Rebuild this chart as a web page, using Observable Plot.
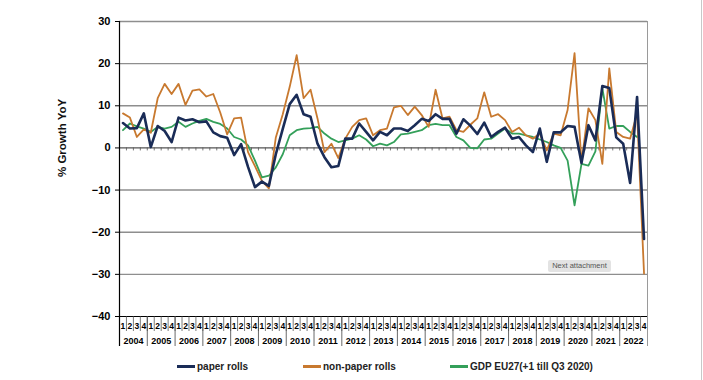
<!DOCTYPE html>
<html><head><meta charset="utf-8">
<script src="https://cdn.jsdelivr.net/npm/d3@7"></script>
<script src="https://cdn.jsdelivr.net/npm/@observablehq/plot@0.6"></script>
<style>
body{margin:0;background:#fff;font-family:"Liberation Sans",Arial,sans-serif;}
#wrap{position:relative;width:703px;height:380px;overflow:hidden;}
#chart{position:absolute;left:0;top:0;}
.item{position:absolute;top:360px;height:12px;display:flex;align-items:center;font-weight:bold;font-size:10px;color:#222;white-space:nowrap;}
.sw{display:inline-block;width:18px;height:3px;margin-right:2px;}
#next{position:absolute;left:548px;top:260px;width:63px;height:12px;background:#e3e3e3;border-radius:2px;font-size:7.5px;color:#555;line-height:12px;text-align:center;}
#edge{position:absolute;left:701px;top:0;width:1px;height:380px;background:#c8c8c8;}
</style></head><body>
<div id="wrap"><div id="chart"></div></div>
<script>
const years = [2004,2005,2006,2007,2008,2009,2010,2011,2012,2013,2014,2015,2016,2017,2018,2019,2020,2021,2022];
const quarterLabels = ["1","2","3","4"];
const yTicks = [30,20,10,0,-10,-20,-30,-40];
const seriesNames = ["paper rolls","non-paper rolls","GDP EU27(+1 till Q3 2020)"];
const seriesColors = ["#1a2c57","#c8792f","#34a05a"];

const paper = [5.9,4.6,4.7,8.2, 0.2,5.2,4.0,1.4, 7.2,6.5,6.8,6.1, 6.3,3.7,2.8,2.4,
  -1.7,0.9,-4.5,-9.3, -8.0,-9.0,-1.5,4.5, 10.4,12.6,8.0,7.4, 1.0,-2.2,-4.6,-4.3,
  2.2,2.2,5.8,3.8, 1.8,3.8,3.0,4.6, 4.6,4.0,5.4,6.9, 6.4,8.0,6.9,6.9,
  3.4,6.8,5.3,3.3, 6.0,2.6,3.8,4.8, 2.2,2.6,0.6,-1.0, 4.6,-3.3,3.7,3.7,
  5.2,5.0,-3.6,5.4, 1.8,14.7,14.2,2.5, 1.0,-8.3,12.1,-21.6];
const nonPaper = [8.2,7.2,2.6,4.4, 3.6,11.8,15.2,12.8, 15.2,10.2,13.6,13.9, 12.2,12.8,8.4,3.2,
  7.0,7.2,-1.0,-4.3, -7.8,-9.6,2.5,8.0, 14.5,22.0,11.8,13.8, 7.0,-1.0,1.0,-2.4,
  2.2,5.0,6.6,7.0, 3.0,4.2,4.6,9.6, 10.0,7.8,9.8,7.8, 5.0,13.8,7.0,7.4,
  4.2,3.8,5.5,7.0, 13.2,7.4,8.0,6.6, 3.8,4.8,3.0,2.2, 3.4,-0.6,3.4,3.0,
  9.0,22.5,-3.5,9.4, 6.6,-3.8,18.9,3.8, 2.6,2.2,8.2,-29.8];
const gdp = [4.2,5.8,5.1,4.6, 3.8,5.0,4.6,5.0, 6.2,5.0,5.8,6.4, 6.9,6.2,5.7,4.6,
  2.6,2.0,0.6,-3.0, -7.0,-6.6,-4.6,-1.5, 3.0,4.2,4.6,4.7, 5.0,3.4,2.2,1.4,
  1.8,2.2,3.0,2.0, 0.4,1.0,0.6,1.4, 3.2,3.4,3.8,4.2, 5.4,5.7,5.4,5.4,
  2.6,1.8,0.0,-0.1, 2.0,2.2,3.4,4.6, 3.4,3.4,3.0,2.6, 2.0,1.4,0.6,0.0,
  -3.0,-13.6,-3.8,-4.2, -0.8,14.2,4.6,5.2, 5.2,3.8,2.6];

const nQ = years.length * 4;
const qIdx = d3.range(nQ);
const qBounds = d3.range(nQ + 1).map(i => i - 0.5);
const yBounds = d3.range(years.length + 1).map(k => 4 * k - 0.5);
const yCenters = years.map((y, k) => 4 * k + 1.5);

const rows = [];
[paper, nonPaper, gdp].forEach((arr, s) => arr.forEach((v, i) => rows.push({q: i, v, s: seriesNames[s]})));

const grid = [30,20,10,-10,-20,-30];

const chart = Plot.plot({
  width: 703, height: 350,
  marginLeft: 119, marginRight: 56, marginTop: 21, marginBottom: 34,
  x: {domain: [-0.5, nQ - 0.5], axis: null, label: null},
  y: {domain: [-40, 30], axis: null, label: null},
  color: {domain: seriesNames, range: seriesColors},
  style: {fontFamily: "'Liberation Sans', Arial, sans-serif", color: "#000", background: "#fff"},
  marks: [
    Plot.ruleY(grid, {stroke: "#8e8e8e", strokeWidth: 1.4}),
    Plot.ruleY([0], {stroke: "#555", strokeWidth: 1.3}),
    Plot.ruleX(qBounds, {y1: 0, y2: 0, insetBottom: -3, stroke: "#555", strokeWidth: 0.8}),
    Plot.ruleY([-40], {stroke: "#000", strokeWidth: 1}),
    Plot.axisY({ticks: yTicks, tickSize: 4, tickPadding: 5, fontSize: 11, fontWeight: "bold", label: null}),
    Plot.axisX({ticks: qBounds, tickSize: 15, tickFormat: () => "", stroke: "#444", strokeWidth: 0.7, label: null}),
    Plot.axisX({ticks: qIdx, tickSize: 0, tickPadding: 6, fontSize: 8.5, fontWeight: "bold", tickFormat: d => quarterLabels[d % 4], label: null}),
    Plot.axisX({ticks: yBounds, tickSize: 30, tickFormat: () => "", stroke: "#444", strokeWidth: 0.8, label: null}),
    Plot.axisX({ticks: yCenters, tickSize: 0, tickPadding: 21, fontSize: 9, fontWeight: "bold", tickFormat: d => String(years[(d - 1.5) / 4]), label: null}),
    Plot.ruleX([-0.5], {y1: 30, y2: -40, insetBottom: -30, stroke: "#000", strokeWidth: 1.2}),
    Plot.ruleX([nQ - 0.5], {y1: 30, y2: -40, insetBottom: -30, stroke: "#9a9a9a", strokeWidth: 1}),
    Plot.line(rows.filter(d => d.s === seriesNames[2]), {x: "q", y: "v", stroke: "s", strokeWidth: 1.8}),
    Plot.line(rows.filter(d => d.s === seriesNames[1]), {x: "q", y: "v", stroke: "s", strokeWidth: 1.8}),
    Plot.line(rows.filter(d => d.s === seriesNames[0]), {x: "q", y: "v", stroke: "s", strokeWidth: 2.6}),
    Plot.text(["% Growth YoY"], {frameAnchor: "left", dx: -57, dy: 8, rotate: -90, fontSize: 11.5, fontWeight: "bold", fill: "#111"})
  ]
});
document.getElementById("chart").appendChild(chart);

const wrap = document.getElementById("wrap");
const legendX = [177, 303, 450];
seriesNames.forEach((name, i) => {
  const it = document.createElement("div");
  it.className = "item";
  it.style.left = legendX[i] + "px";
  it.innerHTML = `<span class="sw" style="background:${seriesColors[i]}"></span>${name}`;
  wrap.appendChild(it);
});
const nx = document.createElement("div");
nx.id = "next"; nx.textContent = "Next attachment";
wrap.appendChild(nx);
const edge = document.createElement("div");
edge.id = "edge";
wrap.appendChild(edge);
</script>
</body></html>
